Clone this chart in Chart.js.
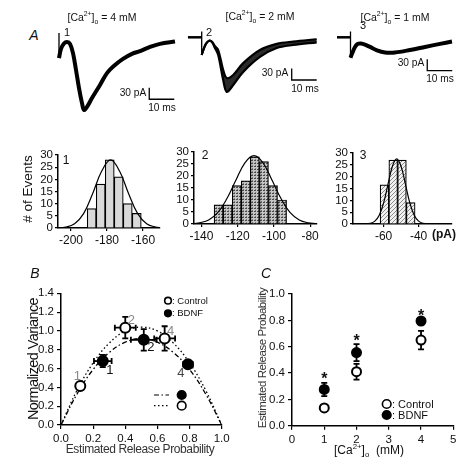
<!DOCTYPE html>
<html>
<head>
<meta charset="utf-8">
<script src="https://cdn.jsdelivr.net/npm/chart.js@4.4.1/dist/chart.umd.min.js"></script>
<style>
  html, body { margin: 0; padding: 0; background: #fff; }
  #fig { position: relative; width: 473px; height: 462px; overflow: hidden;
         font-family: "Liberation Sans", Arial, sans-serif; color: #111; }
  #fig canvas { position: absolute; }
  .t { position: absolute; white-space: nowrap; transform: translate(-50%, -50%); line-height: 1; }
  .rot { transform: translate(-50%, -50%) rotate(-90deg); }
  .it { font-style: italic; }
  sup, sub { font-size: 65%; line-height: 0; }
</style>
</head>
<body>
<div id="fig">
  <canvas id="tr1" width="130" height="95" style="left:50px;top:25px"></canvas>
  <canvas id="tr2" width="135" height="75" style="left:185px;top:25px"></canvas>
  <canvas id="tr3" width="125" height="55" style="left:333px;top:25px"></canvas>
  <canvas id="h1" width="164" height="103" style="left:0px;top:145px"></canvas>
  <canvas id="h2" width="181" height="102" style="left:140px;top:142px"></canvas>
  <canvas id="h3" width="156" height="101" style="left:300px;top:143px"></canvas>
  <canvas id="pB" width="235" height="182" style="left:0px;top:280px"></canvas>
  <canvas id="pC" width="238" height="182" style="left:235px;top:280px"></canvas>

  <!-- panel A text -->
  <div class="t it" style="left:34px;top:35px;font-size:14px">A</div>
  <div class="t" style="left:102px;top:17px;font-size:10.5px">[Ca<sup>2+</sup>]<sub>o</sub> = 4 mM</div>
  <div class="t" style="left:260px;top:16px;font-size:10.5px">[Ca<sup>2+</sup>]<sub>o</sub> = 2 mM</div>
  <div class="t" style="left:395px;top:17px;font-size:10.5px">[Ca<sup>2+</sup>]<sub>o</sub> = 1 mM</div>
  <div class="t" style="left:67px;top:32px;font-size:11px">1</div>
  <div class="t" style="left:209px;top:32px;font-size:11px">2</div>
  <div class="t" style="left:363px;top:25px;font-size:11px">3</div>
  <div class="t" style="left:133px;top:93px;font-size:10.2px">30 pA</div>
  <div class="t" style="left:162px;top:108px;font-size:10.2px">10 ms</div>
  <div class="t" style="left:275px;top:73px;font-size:10.2px">30 pA</div>
  <div class="t" style="left:305px;top:89px;font-size:10.2px">10 ms</div>
  <div class="t" style="left:411px;top:63px;font-size:10.2px">30 pA</div>
  <div class="t" style="left:440px;top:79px;font-size:10.2px">10 ms</div>

  <div class="t rot" style="left:28px;top:189px;font-size:13.5px"># of Events</div>
  <div class="t" style="left:66px;top:160px;font-size:12px">1</div>
  <div class="t" style="left:205px;top:155px;font-size:12px">2</div>
  <div class="t" style="left:363px;top:155px;font-size:12px">3</div>
  <div class="t" style="left:444px;top:234px;font-size:12px;font-weight:bold">(pA)</div>

  <!-- panel B / C text -->
  <div class="t it" style="left:35px;top:273px;font-size:14px">B</div>
  <div class="t it" style="left:266px;top:273px;font-size:14px">C</div>
  <div class="t rot" style="left:33px;top:359px;font-size:14.5px;letter-spacing:-0.6px">Normalized Variance</div>
  <div class="t" style="left:140px;top:449px;font-size:12px;letter-spacing:-0.4px;color:#333">Estimated Release Probability</div>
  <div class="t rot" style="left:263px;top:358px;font-size:11.5px;letter-spacing:-0.45px;color:#333">Estimated Release Probability</div>
  <div class="t" style="left:369px;top:450px;font-size:12px">[Ca<sup>2+</sup>]<sub>o</sub> &nbsp;(mM)</div>
</div>

<script>
const FONT = '"Liberation Sans", Arial, sans-serif';

// ---------- Panel A: current traces (ms, pA) ----------
const art1T = [0, 0];
const art1I = [18, -47];
const tr1T = [0, 0.8, 2, 3.2, 4.4, 5.6, 6.8, 8, 9.2, 10, 11.2, 13.2, 16.4, 19.2, 22.4, 25.6, 29.2, 32.4, 36.4, 40.4, 46.4];
const tr1I = [-47, -23, -9, -5, -10, -34, -78, -125, -164, -182, -174, -151, -117, -86, -65, -49, -36, -29, -18, -10, -4];

const pre2T = [-5.5, 0];
const pre2I = [0, 0];
const art2I = [15, -46];
const tr2T = [0, 0.64, 1.7, 3.0, 4.1, 5.3, 6.6, 8.6, 10, 12.6, 16.6, 23.3, 30, 36.6, 46];
const tr2Upper = [-46, -33, -17, -9, -12, -23, -33, -85, -106, -98, -67, -33, -17, -11, -5];
const tr2Lower = [-46, -33, -17, -9, -12, -28, -46, -111, -142, -124, -90, -51, -28, -20, -13];

const pre3T = [-5.4, 0];
const pre3I = [0, 0];
const art3I = [15, -53];
const tr3T = [0, 0.6, 1.8, 3, 4.2, 5.8, 7.8, 10.6, 13.8, 17.8, 23.8, 29.8, 35.8, 40.6];
const tr3I = [-53, -43, -25, -17, -16, -19, -25, -34, -39.5, -39.5, -33, -25, -17, -11];

// scale bars: 10 ms, 30 pA
const barMs = 10;
const barPA = 30;

// ---------- Panel A: amplitude histograms ----------
const h1Bins = [-188.5, -183.5, -178.5, -173.5, -168.5, -163.5];
const h1Counts = [8, 18, 28, 21, 10, 6];
const h1FitX = [-208, -203, -198, -193, -188, -183, -178, -173, -168, -163, -158, -153, -150];
const h1FitY = [0.06, 0.37, 1.75, 5.9, 14.1, 23.3, 28, 23.3, 14.1, 5.9, 1.75, 0.37, 0.15];
const h1Ticks = [-200, -180, -160];

const h2Bins = [-130.5, -125.5, -120.5, -115.5, -110.5, -105.5, -100.5, -95.5];
const h2Counts = [8, 8, 16, 18, 28, 26, 16, 10];
const h2FitX = [-144, -141, -136, -131, -126, -121, -116, -111, -106, -101, -96, -91, -86, -81, -77];
const h2FitY = [0.2, 0.5, 1.7, 4.7, 10.5, 18.2, 25.5, 28.5, 25.5, 18.2, 10.5, 4.7, 1.7, 0.5, 0.2];
const h2Ticks = [-140, -120, -100, -80];

const h3Bins = [-59.5, -54.5, -49.5, -44.5];
const h3Counts = [16.5, 27, 27, 9];
const h3FitX = [-72, -67.5, -65, -62.5, -60, -57.5, -55, -52.5, -50, -47.5, -45, -42.5, -40, -37.5, -33];
const h3FitY = [0, 0.3, 1.2, 3.7, 8.9, 16.7, 24.3, 27.5, 24.3, 16.7, 8.9, 3.7, 1.2, 0.3, 0];
const h3Ticks = [-60, -40];

const histYTicks = [0, 5, 10, 15, 20, 25, 30];

// ---------- Panel B ----------
const bPointLabels = ['1', '2', '4'];
const bCtlP = [0.12, 0.40, 0.645];
const bCtlV = [0.415, 1.035, 0.92];
const bCtlPErr = [0.02, 0.065, 0.065];
const bCtlVErr = [0.035, 0.115, 0.13];
const bBdnfP = [0.26, 0.515, 0.79];
const bBdnfV = [0.68, 0.905, 0.645];
const bBdnfPErr = [0.055, 0.08, 0.03];
const bBdnfVErr = [0.065, 0.115, 0.035];
const bFitP = [0, 0.1, 0.2, 0.3, 0.4, 0.5, 0.6, 0.7, 0.8, 0.9, 1.0];
const bCtlFit = [0, 0.37, 0.66, 0.87, 1.0, 1.04, 1.0, 0.87, 0.66, 0.37, 0];
const bBdnfFit = [0, 0.33, 0.59, 0.77, 0.88, 0.92, 0.88, 0.77, 0.59, 0.33, 0];
const bXTicks = [0, 0.2, 0.4, 0.6, 0.8, 1.0];
const bYTicks = [0, 0.2, 0.4, 0.6, 0.8, 1.0, 1.2, 1.4];

// ---------- Panel C ----------
const cCa = [1, 2, 4];
const cCtl = [0.135, 0.41, 0.65];
const cCtlErr = [0.015, 0.06, 0.07];
const cBdnf = [0.275, 0.555, 0.795];
const cBdnfErr = [0.05, 0.065, 0.02];
const cStar = [0.37, 0.665, 0.855];
const cXTicks = [0, 1, 2, 3, 4, 5];
const cYTicks = [0, 0.2, 0.4, 0.6, 0.8, 1.0];

function xy(xs, ys) {
    return xs.map((x, i) => ({ x: x, y: ys[i] }));
}

const baseOpts = {
    responsive: false,
    animation: false,
    events: [],
    plugins: { legend: { display: false }, tooltip: { enabled: false } }
};

// ---------- traces ----------
function traceLine(t, v, w, extra) {
    return Object.assign({ data: xy(t, v), borderColor: '#000', borderWidth: w, pointRadius: 0,
        tension: 0.35, fill: false, clip: false }, extra || {});
}

function scaleBar(t0, i0) {
    return traceLine([t0, t0, t0 + barMs], [i0 + barPA, i0, i0], 1.3, { tension: 0 });
}

function traceChart(id, xr, yr, sets) {
    new Chart(document.getElementById(id), {
        type: 'line',
        data: { datasets: sets },
        options: Object.assign({}, baseOpts, {
            layout: { padding: 0 },
            scales: {
                x: { type: 'linear', display: false, min: xr[0], max: xr[1] },
                y: { type: 'linear', display: false, min: yr[0], max: yr[1] }
            }
        })
    });
}

traceChart('tr1', [-3.6, 48.4], [-208, 39], [
    traceLine(tr1T, tr1I, 4),
    traceLine(art1T, art1I, 1.3, { tension: 0 }),
    scaleBar(36.1, -154)
]);

traceChart('tr2', [-6.68, 47.32], [-163, 32], [
    traceLine(tr2T, tr2Upper, 2.2),
    traceLine(tr2T, tr2Lower, 2.2, { fill: '-1', backgroundColor: '#2b2b2b' }),
    traceLine(pre2T, pre2I, 2.5, { tension: 0 }),
    traceLine(art1T, art2I, 1.3, { tension: 0 }),
    scaleBar(36, -111)
]);

traceChart('tr3', [-7, 43], [-111, 32], [
    traceLine(tr3T, tr3I, 4),
    traceLine(pre3T, pre3I, 2.5, { tension: 0 }),
    traceLine(art1T, art3I, 1.3, { tension: 0 }),
    scaleBar(30.7, -86.8)
]);

// ---------- histograms ----------
function makePattern(kind) {
    const c = document.createElement('canvas');
    const g = c.getContext('2d');
    if (kind === 'dots') {
        c.width = 3; c.height = 3;
        g.fillStyle = '#c4c4c4'; g.fillRect(0, 0, 3, 3);
        g.fillStyle = '#4a4a4a'; g.fillRect(0, 0, 2, 1);
        g.fillStyle = '#7a7a7a'; g.fillRect(1, 2, 1, 1);
    } else {
        c.width = 4; c.height = 4;
        g.fillStyle = '#f2f2f2'; g.fillRect(0, 0, 4, 4);
        g.fillStyle = '#8c8c8c';
        for (let i = 0; i < 4; i++) g.fillRect(i, 3 - i, 1, 1);
    }
    return g.createPattern(c, 'repeat');
}

function axisOpts(size) {
    return {
        grid: { display: true, drawOnChartArea: false, drawTicks: true, tickLength: 3, color: '#000', lineWidth: 1.2, offset: false },
        border: { display: true, color: '#000', width: 1.5 },
        ticks: { color: '#111', font: { family: FONT, size: size }, padding: 2, autoSkip: false, maxRotation: 0 }
    };
}

function histChart(id, o) {
    const x = axisOpts(12);
    Object.assign(x, { type: 'linear', min: o.xMin, max: o.xMax, offset: false,
        afterBuildTicks: s => { s.ticks = o.xTicks.map(v => ({ value: v })); },
        afterFit: s => { s.height = 20; } });
    const y = axisOpts(11.5);
    Object.assign(y, { min: 0, max: 30,
        afterBuildTicks: s => { s.ticks = histYTicks.map(v => ({ value: v })); },
        afterFit: s => { s.width = o.yw; } });
    new Chart(document.getElementById(id), {
        type: 'bar',
        data: {
            datasets: [
                { type: 'line', data: xy(o.fitX, o.fitY), borderColor: '#000', borderWidth: 1.2,
                  pointRadius: 0, tension: 0.4, fill: false },
                { type: 'bar', data: xy(o.bins, o.counts), backgroundColor: o.fill, borderColor: '#000',
                  borderWidth: 1.2, barPercentage: 1, categoryPercentage: 1 }
            ]
        },
        options: Object.assign({}, baseOpts, {
            layout: { padding: { top: 10, right: 4, left: 0, bottom: 0 } },
            scales: { x: x, y: y }
        })
    });
}

histChart('h1', { bins: h1Bins, counts: h1Counts, fitX: h1FitX, fitY: h1FitY, xTicks: h1Ticks,
    xMin: -207.2, xMax: -150.6, yw: 58, fill: '#d9d9d9' });
histChart('h2', { bins: h2Bins, counts: h2Counts, fitX: h2FitX, fitY: h2FitY, xTicks: h2Ticks,
    xMin: -144.1, xMax: -76.5, yw: 54, fill: makePattern('dots') });
histChart('h3', { bins: h3Bins, counts: h3Counts, fitX: h3FitX, fitY: h3FitY, xTicks: h3Ticks,
    xMin: -77.5, xMax: -20.9, yw: 53, fill: makePattern('hatch') });

// ---------- error bars, point labels ----------
const errorBars = {
    id: 'errorBars',
    beforeDatasetDraw(chart, args) {
        const ds = chart.data.datasets[args.index];
        if (!ds.xErr && !ds.yErr) return;
        const xs = chart.scales.x, ys = chart.scales.y, ctx = chart.ctx;
        ctx.save();
        ctx.strokeStyle = '#000';
        ctx.lineWidth = 1.8;
        ds.data.forEach((p, i) => {
            const px = xs.getPixelForValue(p.x), py = ys.getPixelForValue(p.y);
            ctx.beginPath();
            if (ds.yErr) {
                const y1 = ys.getPixelForValue(p.y + ds.yErr[i]), y2 = ys.getPixelForValue(p.y - ds.yErr[i]);
                ctx.moveTo(px, y1); ctx.lineTo(px, y2);
                ctx.moveTo(px - 3, y1); ctx.lineTo(px + 3, y1);
                ctx.moveTo(px - 3, y2); ctx.lineTo(px + 3, y2);
            }
            if (ds.xErr) {
                const x1 = xs.getPixelForValue(p.x - ds.xErr[i]), x2 = xs.getPixelForValue(p.x + ds.xErr[i]);
                ctx.moveTo(x1, py); ctx.lineTo(x2, py);
                ctx.moveTo(x1, py - 3); ctx.lineTo(x1, py + 3);
                ctx.moveTo(x2, py - 3); ctx.lineTo(x2, py + 3);
            }
            ctx.stroke();
        });
        ctx.restore();
    },
    afterDatasetsDraw(chart) {
        const ctx = chart.ctx, xs = chart.scales.x, ys = chart.scales.y;
        chart.data.datasets.forEach(ds => {
            if (!ds.ptLabels) return;
            ctx.save();
            ctx.font = '13px ' + FONT;
            ctx.textAlign = 'center';
            ctx.textBaseline = 'middle';
            ds.data.forEach((p, i) => {
                ctx.fillStyle = ds.labelColors[i];
                ctx.fillText(ds.ptLabels[i], xs.getPixelForValue(p.x) + ds.labelOffsets[i][0],
                    ys.getPixelForValue(p.y) + ds.labelOffsets[i][1]);
            });
            ctx.restore();
        });
    }
};

function circle(ctx, x, y, r, filled) {
    ctx.beginPath();
    ctx.arc(x, y, r, 0, Math.PI * 2);
    ctx.fillStyle = filled ? '#000' : '#fff';
    ctx.fill();
    ctx.lineWidth = 1.6;
    ctx.strokeStyle = '#000';
    ctx.stroke();
}

function plotAxes(xTicks, yTicks, yw, xh, xFmt) {
    const x = axisOpts(11.5);
    Object.assign(x, { type: 'linear', min: xTicks[0], max: xTicks[xTicks.length - 1],
        afterBuildTicks: s => { s.ticks = xTicks.map(v => ({ value: v })); },
        afterFit: s => { s.height = xh; } });
    x.ticks.callback = xFmt;
    x.ticks.padding = 3;
    const y = axisOpts(11.5);
    Object.assign(y, { min: yTicks[0], max: yTicks[yTicks.length - 1],
        afterBuildTicks: s => { s.ticks = yTicks.map(v => ({ value: v })); },
        afterFit: s => { s.width = yw; } });
    y.ticks.callback = v => v.toFixed(1);
    y.ticks.padding = 3;
    x.grid.tickLength = 4;
    y.grid.tickLength = 4;
    return { x: x, y: y };
}

// ---------- Panel B ----------
const legendB = {
    id: 'legendB',
    afterDraw(chart) {
        const ctx = chart.ctx;
        ctx.save();
        circle(ctx, 168, 20.7, 3.3, false);
        circle(ctx, 168, 33.3, 3.3, true);
        ctx.fillStyle = '#111';
        ctx.font = '9.5px ' + FONT;
        ctx.textBaseline = 'middle';
        ctx.fillText(': Control', 172, 21);
        ctx.fillText(': BDNF', 172, 33.6);
        ctx.strokeStyle = '#000';
        ctx.lineWidth = 1.2;
        ctx.setLineDash([5, 2.5, 1.5, 2.5]);
        ctx.beginPath(); ctx.moveTo(154, 115); ctx.lineTo(169, 115); ctx.stroke();
        ctx.setLineDash([1.5, 2.5]);
        ctx.beginPath(); ctx.moveTo(154, 125.7); ctx.lineTo(169, 125.7); ctx.stroke();
        ctx.setLineDash([]);
        circle(ctx, 181.7, 115, 4.3, true);
        circle(ctx, 181.7, 125.7, 4.3, false);
        ctx.restore();
    }
};

new Chart(document.getElementById('pB'), {
    type: 'scatter',
    data: {
        datasets: [
            { data: xy(bCtlP, bCtlV), xErr: bCtlPErr, yErr: bCtlVErr, pointRadius: 5, pointBorderWidth: 2,
              pointBackgroundColor: '#fff', pointBorderColor: '#000',
              ptLabels: bPointLabels, labelColors: ['#8a8a8a', '#8a8a8a', '#8a8a8a'],
              labelOffsets: [[-3, -10], [6, -7], [6, -7]] },
            { data: xy(bBdnfP, bBdnfV), xErr: bBdnfPErr, yErr: bBdnfVErr, pointRadius: 5, pointBorderWidth: 2,
              pointBackgroundColor: '#000', pointBorderColor: '#000',
              ptLabels: bPointLabels, labelColors: ['#111', '#111', '#444'],
              labelOffsets: [[7, 9], [7, 8], [-7, 9]] },
            { data: xy(bFitP, bCtlFit), showLine: true, pointRadius: 0, borderColor: '#000', borderWidth: 1.3,
              borderDash: [1.5, 2.5], tension: 0.4 },
            { data: xy(bFitP, bBdnfFit), showLine: true, pointRadius: 0, borderColor: '#000', borderWidth: 1.3,
              borderDash: [5, 2.5, 1.5, 2.5], tension: 0.4 }
        ]
    },
    options: Object.assign({}, baseOpts, {
        layout: { padding: { top: 13.3, right: 13.3, left: 0, bottom: 0 } },
        scales: plotAxes(bXTicks, bYTicks, 61, 37, v => v.toFixed(1))
    }),
    plugins: [errorBars, legendB]
});

// ---------- Panel C ----------
const cExtras = {
    id: 'cExtras',
    afterDraw(chart) {
        const ctx = chart.ctx, xs = chart.scales.x, ys = chart.scales.y;
        ctx.save();
        ctx.fillStyle = '#111';
        ctx.font = 'bold 16px ' + FONT;
        ctx.textAlign = 'center';
        ctx.textBaseline = 'middle';
        cCa.forEach((c, i) => {
            ctx.fillText('*', xs.getPixelForValue(c), ys.getPixelForValue(cStar[i]) + 3);
        });
        circle(ctx, 151.7, 124, 4.3, false);
        circle(ctx, 151.7, 135, 4.3, true);
        ctx.fillStyle = '#111';
        ctx.font = '11px ' + FONT;
        ctx.textAlign = 'left';
        ctx.fillText(': Control', 157, 124.5);
        ctx.fillText(': BDNF', 157, 135.5);
        ctx.restore();
    }
};

new Chart(document.getElementById('pC'), {
    type: 'scatter',
    data: {
        datasets: [
            { data: xy(cCa, cCtl), yErr: cCtlErr, pointRadius: 4.5, pointBorderWidth: 2,
              pointBackgroundColor: '#fff', pointBorderColor: '#000' },
            { data: xy(cCa, cBdnf), yErr: cBdnfErr, pointRadius: 4.5, pointBorderWidth: 2,
              pointBackgroundColor: '#000', pointBorderColor: '#000' }
        ]
    },
    options: Object.assign({}, baseOpts, {
        layout: { padding: { top: 14, right: 19.7, left: 0, bottom: 0 } },
        scales: plotAxes(cXTicks, cYTicks, 57, 36.3, v => String(v))
    }),
    plugins: [errorBars, cExtras]
});
</script>
</body>
</html>
